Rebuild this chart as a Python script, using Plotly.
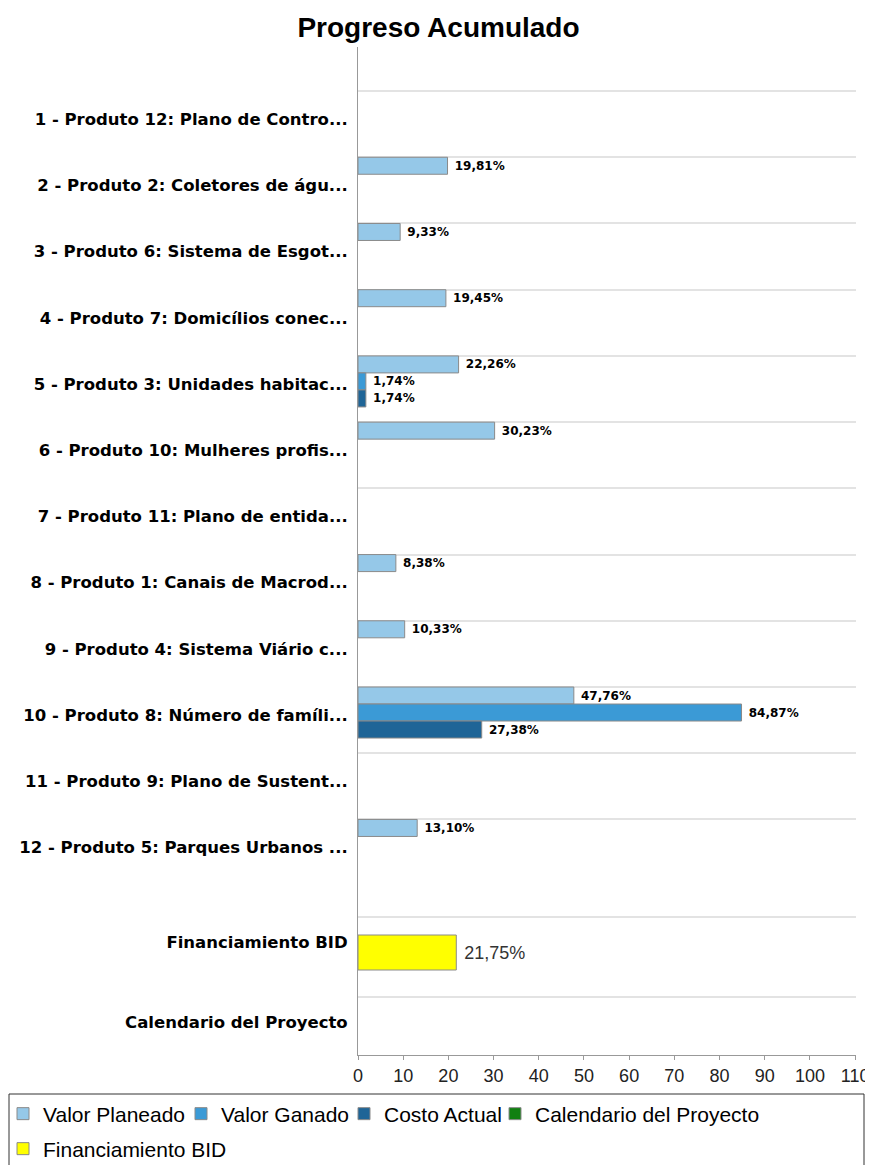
import plotly.graph_objects as go

# ---------------- data ----------------
chart_title = "Progreso Acumulado"
productos = [
    "1 - Produto 12: Plano de Contro...",
    "2 - Produto 2: Coletores de águ...",
    "3 - Produto 6: Sistema de Esgot...",
    "4 - Produto 7: Domicílios conec...",
    "5 - Produto 3: Unidades habitac...",
    "6 - Produto 10: Mulheres profis...",
    "7 - Produto 11: Plano de entida...",
    "8 - Produto 1: Canais de Macrod...",
    "9 - Produto 4: Sistema Viário c...",
    "10 - Produto 8: Número de famíli...",
    "11 - Produto 9: Plano de Sustent...",
    "12 - Produto 5: Parques Urbanos ...",
]
valor_planeado = [None, 19.81, 9.33, 19.45, 22.26, 30.23, None, 8.38, 10.33, 47.76, None, 13.10]
valor_ganado = [None, None, None, None, 1.74, None, None, None, None, 84.87, None, None]
costo_actual = [None, None, None, None, 1.74, None, None, None, None, 27.38, None, None]

resumen = ["Financiamiento BID", "Calendario del Proyecto"]
financiamiento_bid = [21.75, None]
calendario_proyecto = [None, None]

x_tick_values = list(range(0, 111, 10))

# ---------------- styles ----------------
C_VP = "#95C8E8"
C_VG = "#3B9AD6"
C_CA = "#1F6597"
C_CAL = "#118011"
C_FIN = "#FFFF00"
OUTLINE = "#8a8a8a"


def fmt(vals):
    return ["" if v is None else "\u00a0" + f"{v:.2f}".replace(".", ",") + "%" for v in vals]


W_PX_TOP = 66.17          # px per category in the top panel
BAR = 17 / W_PX_TOP       # bar thickness in category units

fig = go.Figure()

label_font = dict(family="DejaVu Sans", size=12, color="#000000", weight="bold")

for name, vals, col, k, lg in [
    ("Valor Planeado", valor_planeado, C_VP, 0, "legend"),
    ("Valor Ganado", valor_ganado, C_VG, 1, "legend2"),
    ("Costo Actual", costo_actual, C_CA, 2, "legend3"),
]:
    fig.add_trace(go.Bar(
        name=name, y=productos, x=vals, orientation="h",
        xaxis="x", yaxis="y",
        width=BAR, offset=-0.5 + k * BAR,
        marker=dict(color=col, line=dict(color=OUTLINE, width=1)),
        text=fmt(vals), textposition="outside", cliponaxis=False,
        constraintext="none", textfont=label_font,
        legend=lg, showlegend=True, hoverinfo="skip",
    ))

fig.add_trace(go.Bar(
    name="Calendario del Proyecto", y=resumen, x=calendario_proyecto, orientation="h",
    xaxis="x2", yaxis="y2",
    width=35 / 80, offset=-0.5 + 18 / 80,
    marker=dict(color=C_CAL, line=dict(color=OUTLINE, width=1)),
    legend="legend4", showlegend=True, hoverinfo="skip",
))
fig.add_trace(go.Bar(
    name="Financiamiento BID", y=resumen, x=financiamiento_bid, orientation="h",
    xaxis="x2", yaxis="y2",
    width=35 / 80, offset=-0.5 + 18 / 80,
    marker=dict(color=C_FIN, line=dict(color=OUTLINE, width=1)),
    text=fmt(financiamiento_bid), textposition="outside", cliponaxis=False,
    constraintext="none",
    textfont=dict(family="Liberation Sans", size=18, color="#333333"),
    legend="legend5", showlegend=True, hoverinfo="skip",
))

# ---------------- layout ----------------
OFF = 8                      # page body margin of the viewer
W, H = 873 - OFF, 1165 - OFF
ML, MR, MT, MB = 358 - OFF, 17, 47 - OFF, 110
plot_w = W - ML - MR
plot_h = H - MT - MB
split = (1055 - 885) / plot_h


def px_x(p):                 # window x -> paper x
    return (p - OFF - ML) / plot_w


def px_y(p):                 # window y -> paper y
    return (H - MB - (p - OFF)) / plot_h


ytick_font = dict(family="DejaVu Sans", size=16.5, color="#000000", weight="bold")
grid_col = "#e3e3e3"
axis_col = "#999999"
leg_font = dict(family="Liberation Sans", size=21, color="#000000")


def leg(x_text, y_mid):
    return dict(orientation="h", x=px_x(x_text - 34), xanchor="left",
                y=px_y(y_mid), yanchor="middle", font=leg_font,
                bgcolor="rgba(0,0,0,0)", borderwidth=0)


fig.update_layout(
    width=W, height=H,
    margin=dict(l=ML, r=MR, t=MT, b=MB, pad=0, autoexpand=False),
    paper_bgcolor="white", plot_bgcolor="white",
    barmode="overlay",
    title=dict(text=chart_title, x=(438.5 - OFF) / W, xref="container", xanchor="center",
               y=1 - (27 - OFF) / H, yref="container", yanchor="middle",
               font=dict(family="Liberation Sans", size=28, color="#000000", weight="bold")),
    xaxis=dict(domain=[0, 1], anchor="y", range=[0, 110.2], matches="x2",
               showgrid=False, zeroline=False, showline=False, showticklabels=False,
               ticks=""),
    xaxis2=dict(domain=[0, 1], anchor="y2", range=[0, 110.2],
                tickmode="array", tickvals=x_tick_values,
                showgrid=False, zeroline=False, showline=True, linecolor=axis_col, linewidth=1,
                ticks="outside", ticklen=4, tickcolor=axis_col,
                tickfont=dict(family="Liberation Sans", size=18, color="#222222")),
    yaxis=dict(domain=[split, 1], anchor="x", type="category",
               categoryorder="array", categoryarray=productos,
               range=[11.49, -0.5 - 44 / W_PX_TOP],
               tickson="boundaries", showgrid=True, gridcolor=grid_col, gridwidth=2,
               showline=True, linecolor=axis_col, linewidth=1, ticks="",
               zeroline=False, tickfont=ytick_font, ticklabelshift=5, ticklabelstandoff=6),
    yaxis2=dict(domain=[0, split], anchor="x2", type="category",
                categoryorder="array", categoryarray=resumen,
                range=[0.5 + 58 / 80, -0.5 - 32 / 80],
                tickson="boundaries", showgrid=True, gridcolor=grid_col, gridwidth=2,
                showline=True, linecolor=axis_col, linewidth=1, ticks="",
                zeroline=False, tickfont=ytick_font, ticklabelshift=15, ticklabelstandoff=6),
    legend=leg(37, 1114),
    legend2=leg(215, 1114),
    legend3=leg(378, 1114),
    legend4=leg(529, 1114),
    legend5=leg(37, 1149),
    shapes=[dict(type="rect", xref="paper", yref="paper",
                 x0=px_x(9), x1=px_x(864), y0=px_y(1094), y1=px_y(1180),
                 line=dict(color="#333333", width=1), fillcolor="rgba(0,0,0,0)", layer="above")],
    showlegend=True,
)

fig.write_html("out.html")
